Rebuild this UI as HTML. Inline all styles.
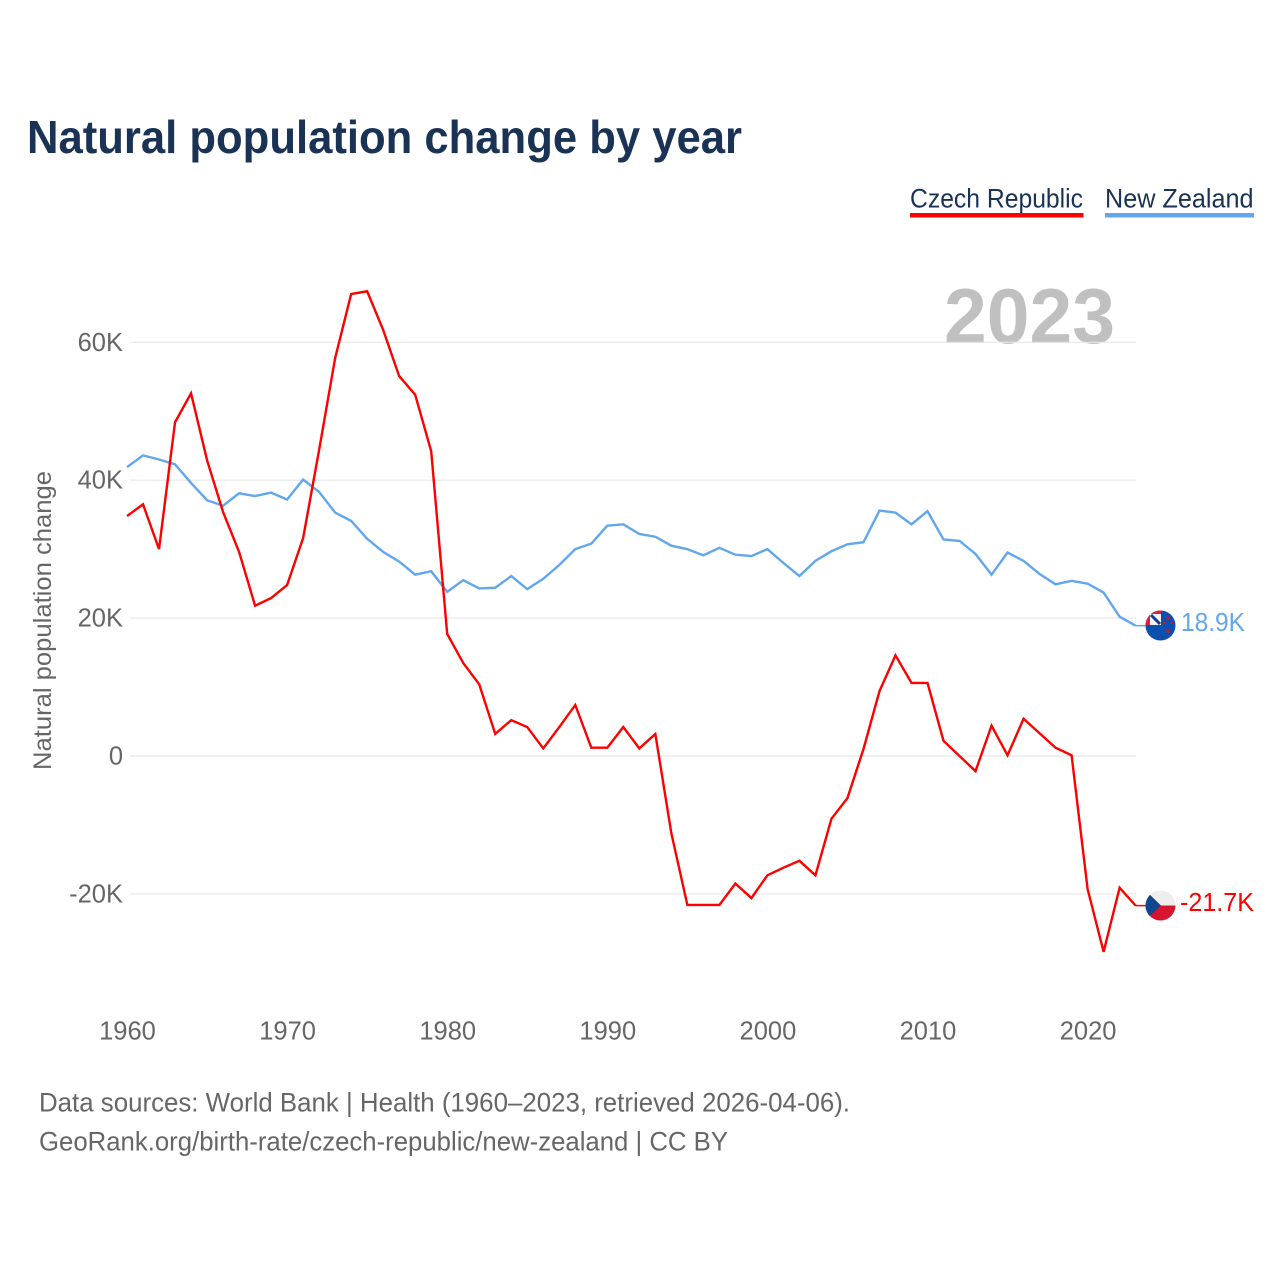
<!DOCTYPE html>
<html>
<head>
<meta charset="utf-8">
<title>Natural population change by year</title>
<style>
html,body{margin:0;padding:0;background:#fff;width:1280px;height:1280px;overflow:hidden}
svg{display:block}
text{font-family:"Liberation Sans",sans-serif}
</style>
</head>
<body>
<svg id="chart" xmlns="http://www.w3.org/2000/svg" width="1280" height="1280" viewBox="0 0 1280 1280">
  <defs>
    <clipPath id="flag-clip-nz"><circle cx="1160.5" cy="625.5" r="15"/></clipPath>
    <clipPath id="flag-clip-cz"><circle cx="1160.5" cy="905.5" r="15"/></clipPath>
  </defs>
  <text x="27" y="153" font-size="46" font-weight="700" fill="#1a3254" textLength="715" lengthAdjust="spacingAndGlyphs">Natural population change by year</text>

  <text x="910" y="207.5" font-size="27" fill="#1a3254" textLength="173" lengthAdjust="spacingAndGlyphs">Czech Republic</text>
  <rect x="910" y="213" width="173.5" height="4.5" fill="#ff0000"/>
  <text x="1105" y="207.5" font-size="27" fill="#1a3254" textLength="148.5" lengthAdjust="spacingAndGlyphs">New Zealand</text>
  <rect x="1105" y="213" width="149" height="4.5" fill="#62a6ee"/>

  <text x="944" y="343" font-size="78" font-weight="700" fill="#c0c0c0" textLength="171" lengthAdjust="spacingAndGlyphs">2023</text>

  <text transform="translate(51 770) rotate(-90)" font-size="25" fill="#666666" textLength="299" lengthAdjust="spacingAndGlyphs">Natural population change</text>

  <g id="grid"></g>
  <g id="y-ticks"></g>
  <g id="x-ticks"></g>
  <g id="lines"></g>

  <g clip-path="url(#flag-clip-nz)">
    <rect x="1145" y="610" width="31" height="31" fill="#0b50ae"/>
    <rect x="1145" y="610" width="16" height="15" fill="#e0203a"/>
    <rect x="1150" y="614" width="11" height="11" fill="#f4f4f8"/>
    <path d="M1151 615L1160 624" stroke="#1a3a8c" stroke-width="3"/>
    <circle cx="1168" cy="618" r="1.6" fill="#d8102c"/>
    <circle cx="1172" cy="623" r="1.2" fill="#d8102c"/>
    <circle cx="1164" cy="623" r="1.4" fill="#d8102c"/>
    <circle cx="1168" cy="631" r="1.8" fill="#d8102c"/>
  </g>
  <g clip-path="url(#flag-clip-cz)">
    <rect x="1145" y="890" width="31" height="15.5" fill="#eeeeee"/>
    <rect x="1145" y="905.5" width="31" height="15.5" fill="#d7142f"/>
    <path d="M1145 890L1161 905.5L1145 921Z" fill="#11468f"/>
  </g>

  <text id="nz-end-label" x="1181" y="631" font-size="26" fill="#62a6ee" textLength="64" lengthAdjust="spacingAndGlyphs">18.9K</text>
  <text id="cz-end-label" x="1180" y="911" font-size="26" fill="#ff0000" textLength="74" lengthAdjust="spacingAndGlyphs">-21.7K</text>

  <text x="39" y="1111.5" font-size="27" fill="#666666" textLength="811" lengthAdjust="spacingAndGlyphs">Data sources: World Bank | Health (1960–2023, retrieved 2026-04-06).</text>
  <text x="39" y="1150.5" font-size="27" fill="#666666" textLength="689" lengthAdjust="spacingAndGlyphs">GeoRank.org/birth-rate/czech-republic/new-zealand | CC BY</text>
</svg>
<script>
const startYear = 1960;
const yTickValues = [60, 40, 20, 0, -20];
const yTickLabels = ["60K", "40K", "20K", "0", "-20K"];
const xTickYears = [1960, 1970, 1980, 1990, 2000, 2010, 2020];
const czechValues = [34.8,36.5,30.0,48.4,52.6,42.9,35.4,29.6,21.8,22.9,24.8,31.6,44.4,57.7,67.0,67.4,61.8,55.1,52.4,44.2,17.7,13.5,10.4,3.2,5.2,4.2,1.1,4.2,7.4,1.2,1.2,4.2,1.1,3.2,-11.2,-21.6,-21.6,-21.6,-18.5,-20.6,-17.3,-16.2,-15.2,-17.3,-9.1,-6.1,1.0,9.4,14.6,10.6,10.6,2.2,0.0,-2.2,4.4,0.1,5.4,3.3,1.2,0.1,-19.3,-28.4,-19.1,-21.7];
const newZealandValues = [41.9,43.6,43.0,42.3,39.6,37.1,36.3,38.1,37.7,38.2,37.2,40.1,38.3,35.3,34.1,31.5,29.6,28.2,26.3,26.8,23.8,25.5,24.3,24.4,26.1,24.2,25.7,27.7,30.0,30.8,33.4,33.6,32.2,31.8,30.5,30.0,29.1,30.2,29.2,29.0,30.0,28.0,26.1,28.3,29.7,30.7,31.0,35.6,35.3,33.6,35.5,31.4,31.2,29.3,26.3,29.5,28.3,26.4,24.9,25.4,25.0,23.7,20.2,18.9];

const NS = "http://www.w3.org/2000/svg";
const xScale = function (year) { return 127 + (year - startYear) * 16.01; };
const yScale = function (v) { return 756 - v * 6.895; };

function make(tag, parent, attrs, txt) {
  const el = document.createElementNS(NS, tag);
  Object.keys(attrs).forEach(function (k) { el.setAttribute(k, attrs[k]); });
  if (txt !== undefined) el.textContent = txt;
  parent.appendChild(el);
  return el;
}

const gridG = document.getElementById("grid");
const yG = document.getElementById("y-ticks");
const xG = document.getElementById("x-ticks");
const linesG = document.getElementById("lines");

yTickValues.forEach(function (v, i) {
  const line = make("line", gridG, { x1: 130, x2: 1136, y1: yScale(v), y2: yScale(v), stroke: "#e8e8e8", "stroke-width": 1.2 });
  
  
  const label = make("text", yG, { x: 123, y: yScale(v) + 8.5, "text-anchor": "end", "font-size": 25.5, fill: "#666666" }, yTickLabels[i]);
  
  
});

xTickYears.forEach(function (yr) {
  const label = make("text", xG, { x: xScale(yr) + 0.5, y: 1039.5, "text-anchor": "middle", "font-size": 25.5, fill: "#666666" }, String(yr));
  
  
});

function pathFor(values) {
  return values.map(function (v, i) {
    return (i ? "L" : "M") + xScale(startYear + i).toFixed(2) + " " + yScale(v).toFixed(2);
  }).join("");
}

const nzLine = make("path", linesG, { d: pathFor(newZealandValues), fill: "none", stroke: "#62a6ee", "stroke-width": 2.4, "stroke-linejoin": "miter" });


const czLine = make("path", linesG, { d: pathFor(czechValues), fill: "none", stroke: "#ff0000", "stroke-width": 2.4, "stroke-linejoin": "miter" });



const lastIndex = czechValues.length - 1;
const nzLead = make("line", linesG, { x1: xScale(startYear + lastIndex), x2: 1146, y1: yScale(newZealandValues[lastIndex]), y2: yScale(newZealandValues[lastIndex]), stroke: "#62a6ee", "stroke-width": 1.5 });


const czLead = make("line", linesG, { x1: xScale(startYear + lastIndex), x2: 1146, y1: yScale(czechValues[lastIndex]), y2: yScale(czechValues[lastIndex]), stroke: "#ff0000", "stroke-width": 1.5 });


</script>
</body>
</html>
